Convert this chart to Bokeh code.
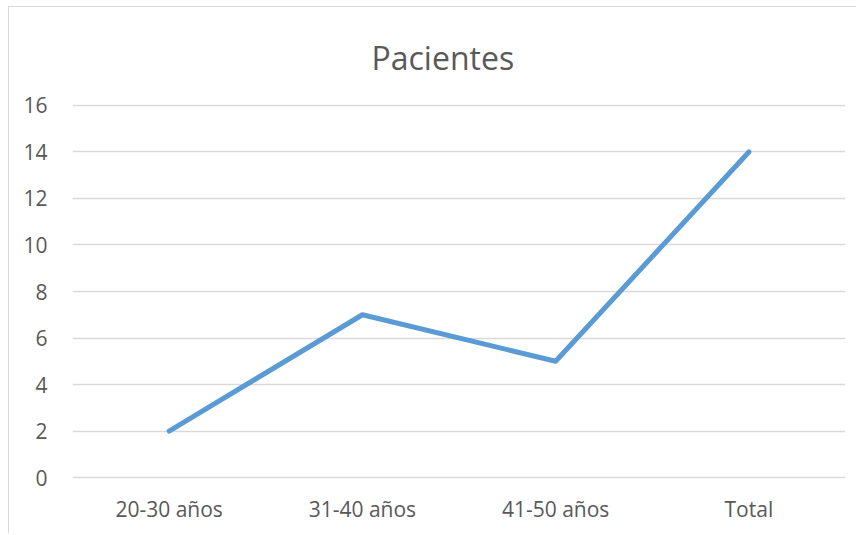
from bokeh.plotting import figure
from bokeh.models import FactorRange, Range1d, FixedTicker
from bokeh.embed import file_html
from bokeh.resources import INLINE

categories = ["20-30 años", "31-40 años", "41-50 años", "Total"]
pacientes = [2, 7, 5, 14]
y_ticks = [0, 2, 4, 6, 8, 10, 12, 14, 16]
title_text = "Pacientes"

FONT = "Open Sans"
TXT = "#595959"
GRID = "#d9d9d9"

p = figure(
    x_range=FactorRange(factors=categories, range_padding=0),
    y_range=Range1d(-0.04, 16.04),
    width=848, height=527,
    min_border_left=63, min_border_right=12,
    min_border_top=97, min_border_bottom=56,
    output_backend="svg", toolbar_location=None,
    title=title_text,
    styles={"border-left": "1px solid #d9d9d9", "border-top": "1px solid #d9d9d9",
            "margin-left": "8px", "margin-top": "6px"},
)
p.outline_line_color = None
p.background_fill_color = "white"
p.border_fill_color = "white"

p.title.align = "left"
p.title.offset = 299
p.title.text_font = FONT
p.title.text_font_size = "32px"
p.title.text_font_style = "normal"
p.title.text_color = TXT
p.title.standoff = 52

p.line(x=categories, y=pacientes, line_color="#5b9bd5", line_width=5,
       line_join="round", line_cap="round")

p.xgrid.grid_line_color = None
p.ygrid.grid_line_color = GRID
p.ygrid.grid_line_width = 1.5
p.yaxis.ticker = FixedTicker(ticks=y_ticks)

for ax in (p.xaxis, p.yaxis):
    ax.axis_line_color = None
    ax.major_tick_line_color = None
    ax.minor_tick_line_color = None
    ax.major_tick_in = 0
    ax.major_tick_out = 0
    ax.major_label_text_font = FONT
    ax.major_label_text_font_size = "21px"
    ax.major_label_text_color = TXT

p.yaxis.major_label_standoff = 25
p.xaxis.major_label_standoff = 16

open("out.html", "w").write(file_html(p, INLINE))
